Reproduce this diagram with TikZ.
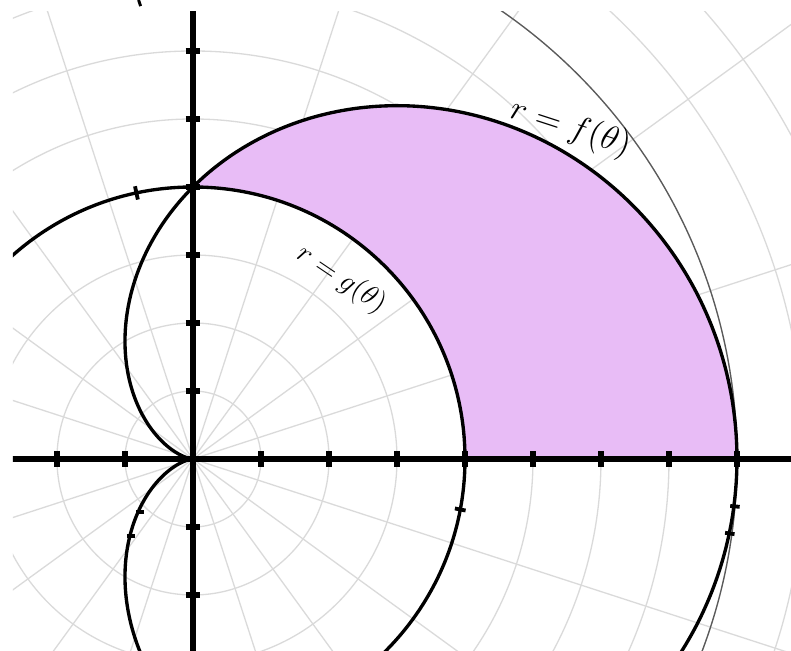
\documentclass[tikz,border=0pt]{standalone}
\definecolor{regionpink}{RGB}{232,188,246}
\definecolor{gridgray}{RGB}{218,218,218}
\definecolor{darkring}{RGB}{90,90,90}
\tikzset{
  gridline/.style={draw=gridgray, line width=0.55pt},
  ringline/.style={draw=darkring, line width=0.55pt},
  curveline/.style={draw=black, line width=1.4pt},
  axisline/.style={draw=black, line width=2.2pt},
  tickmark/.style={draw=black, line width=2.6pt},
  blip/.style={draw=black, line width=1.6pt},
  handlabel/.style={inner sep=0pt, font=\fontsize{15}{18}\selectfont}
}
\begin{document}
\begin{tikzpicture}[x=1cm,y=1cm]
\useasboundingbox (-2.838,-2.809) rectangle (8.794,6.75);
\begin{scope}
  \clip (-2.647,-2.809) rectangle (8.794,6.574);
  % polar grid
  \foreach \r in {1,...,12} \draw[gridline] (0,0) circle[radius=\r];
  \foreach \a in {0,18,...,342} \draw[gridline] (0,0) -- (\a:13);
  % shaded region between g and f, 0 <= theta <= 90
  \fill[regionpink] (8,0) -- plot[domain=0:90, samples=80, smooth] (\x:{4+4*cos(\x)})
        arc[start angle=90, end angle=0, radius=4] -- cycle;
  % thin ring r = 8
  \draw[ringline] (0,0) circle[radius=8];
  % r = g(theta): circle r = 4
  \draw[curveline] (0,0) circle[radius=4];
  % r = f(theta): cardioid
  \draw[curveline] plot[domain=0:360, samples=300, smooth] (\x:{4+4*cos(\x)});
  % small marks on the curves
  \draw[blip] (102:3.9) -- (102:4.1);
  \draw[blip] (-10.7:3.92) -- (-10.7:4.08);
  \draw[blip] (225:1.1) ++(-0.06,0) -- ++(0.12,0);
  \draw[blip] (231:1.45) ++(-0.06,0) -- ++(0.12,0);
  \draw[blip] (-5:7.93) -- (-5:8.07);
  \draw[blip] (-7.9:7.9) -- (-7.9:8.04);
  % axes
  \draw[axisline] (-3,0) -- (9,0);
  \draw[axisline] (0,-3) -- (0,7);
  \foreach \i in {-2,...,8} \draw[tickmark] (\i,-0.115) -- (\i,0.115);
  \foreach \j in {-2,...,6} \draw[tickmark] (-0.11,\j) -- (0.11,\j);
\end{scope}
% cut-off stroke at the top
\draw[line width=1.2pt] (-0.80,6.75) -- (-0.77,6.66);
% labels
\node[handlabel, rotate=-18] (flabel) at (5.55,4.86) {$r=f(\theta)$};
\node[handlabel, rotate=-34, font=\fontsize{13}{16}\selectfont] (glabel) at (2.18,2.64) {$r=g(\theta)$};
\end{tikzpicture}
\end{document}
